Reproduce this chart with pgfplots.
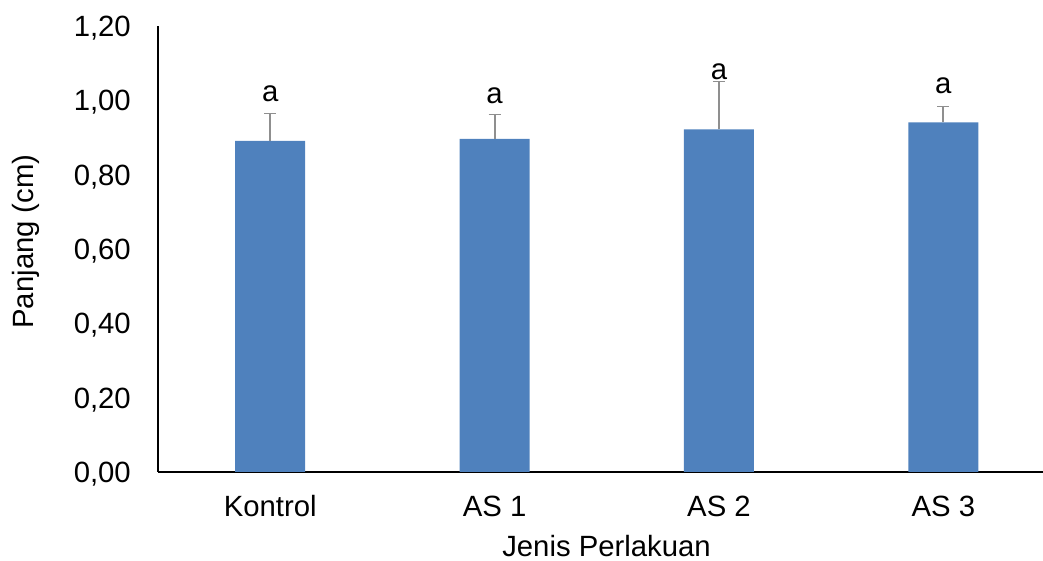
\documentclass[border=0pt]{standalone}
\usepackage{pgfplots}
\pgfplotsset{compat=1.18}
\usepackage{fontspec}
\setmainfont{Liberation Sans}
\definecolor{barblue}{HTML}{4F81BD}
\definecolor{errgray}{HTML}{8F8F8F}
\newcommand{\chartfont}{\fontsize{29.3}{34}\selectfont}
\begin{document}
\chartfont
\begin{tikzpicture}
\begin{axis}[
 at={(0,0)}, anchor=south west,
 scale only axis, width=885pt, height=446pt,
 xmin=-0.5, xmax=3.444, ymin=0, ymax=1.2,
 axis x line*=bottom, axis y line*=left,
 axis line style={black, line width=1.5pt},
 xtick={0,1,2,3}, xticklabels={Kontrol,AS 1,AS 2,AS 3},
 ytick={0,0.2,0.4,0.6,0.8,1.0,1.2},
 /pgf/number format/assume math mode=true,
 /pgf/number format/fixed,
 /pgf/number format/fixed zerofill,
 /pgf/number format/precision=2,
 /pgf/number format/use comma,
 ticklabel style={font=\chartfont, inner sep=0pt},
 label style={font=\chartfont},
 major tick length=0pt,
 yticklabel style={anchor=base east, xshift=-27pt, yshift=-10.5pt},
 xticklabel style={anchor=base, yshift=-45pt},
 xlabel={Jenis Perlakuan},
 ylabel={Panjang (cm)},
 xlabel style={at={(axis description cs:0.5068,-0.1890)}, anchor=base, inner sep=0pt, text depth=0pt},
 ylabel style={at={(axis description cs:-0.1497,0.5168)}, anchor=center, inner sep=0pt},
 clip=false,
]
\addplot[ybar, bar width=70pt, fill=barblue, draw=none,
  error bars/.cd, y dir=plus, y explicit,
  error bar style={errgray, line width=2pt},
  error mark options={rotate=90, mark size=6pt, line width=1.5pt, errgray}]
 coordinates {
 (0,0.891) +- (0,0.074)
 (1,0.896) +- (0,0.066)
 (2,0.922) +- (0,0.128)
 (3,0.941) +- (0,0.042)
 };
\node[font=\chartfont, anchor=base, inner sep=0pt] at (axis cs:0,0.9955) {a};
\node[font=\chartfont, anchor=base, inner sep=0pt] at (axis cs:1,0.9928) {a};
\node[font=\chartfont, anchor=base, inner sep=0pt] at (axis cs:2,1.0547) {a};
\node[font=\chartfont, anchor=base, inner sep=0pt] at (axis cs:3,1.0197) {a};
\end{axis}
\pgfresetboundingbox
\path[use as bounding box] (-158pt,-89pt) rectangle (885pt,472pt);
\end{tikzpicture}
\end{document}
